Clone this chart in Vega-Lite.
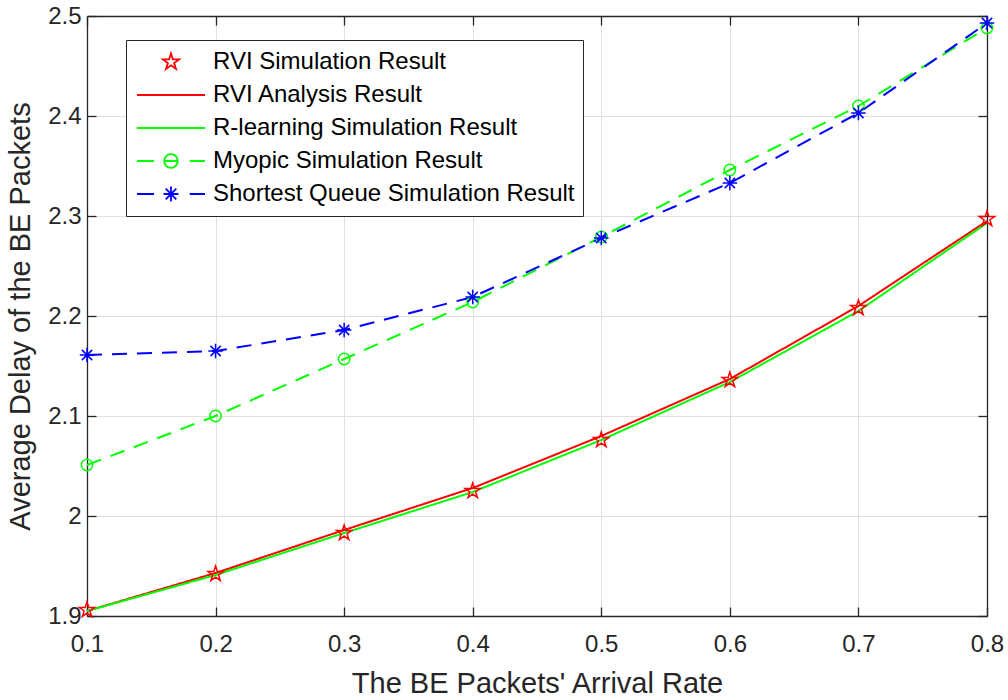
{
  "$schema": "https://vega.github.io/schema/vega-lite/v6.json",
  "width": 900,
  "height": 600,
  "autosize": "none",
  "padding": {"left": 87, "top": 16, "right": 21, "bottom": 84},
  "background": "white",
  "data": {
    "values": [
      {"x": 0.1, "series": "RVI Simulation Result", "y": 1.906},
      {"x": 0.2, "series": "RVI Simulation Result", "y": 1.942},
      {"x": 0.3, "series": "RVI Simulation Result", "y": 1.983},
      {"x": 0.4, "series": "RVI Simulation Result", "y": 2.025},
      {"x": 0.5, "series": "RVI Simulation Result", "y": 2.076},
      {"x": 0.6, "series": "RVI Simulation Result", "y": 2.136},
      {"x": 0.7, "series": "RVI Simulation Result", "y": 2.208},
      {"x": 0.8, "series": "RVI Simulation Result", "y": 2.297},
      {"x": 0.1, "series": "RVI Analysis Result", "y": 1.905},
      {"x": 0.2, "series": "RVI Analysis Result", "y": 1.943},
      {"x": 0.3, "series": "RVI Analysis Result", "y": 1.986},
      {"x": 0.4, "series": "RVI Analysis Result", "y": 2.028},
      {"x": 0.5, "series": "RVI Analysis Result", "y": 2.080},
      {"x": 0.6, "series": "RVI Analysis Result", "y": 2.137},
      {"x": 0.7, "series": "RVI Analysis Result", "y": 2.210},
      {"x": 0.8, "series": "RVI Analysis Result", "y": 2.295},
      {"x": 0.1, "series": "R-learning Simulation Result", "y": 1.905},
      {"x": 0.2, "series": "R-learning Simulation Result", "y": 1.941},
      {"x": 0.3, "series": "R-learning Simulation Result", "y": 1.983},
      {"x": 0.4, "series": "R-learning Simulation Result", "y": 2.024},
      {"x": 0.5, "series": "R-learning Simulation Result", "y": 2.076},
      {"x": 0.6, "series": "R-learning Simulation Result", "y": 2.134},
      {"x": 0.7, "series": "R-learning Simulation Result", "y": 2.205},
      {"x": 0.8, "series": "R-learning Simulation Result", "y": 2.293},
      {"x": 0.1, "series": "Myopic Simulation Result", "y": 2.051},
      {"x": 0.2, "series": "Myopic Simulation Result", "y": 2.100},
      {"x": 0.3, "series": "Myopic Simulation Result", "y": 2.157},
      {"x": 0.4, "series": "Myopic Simulation Result", "y": 2.214},
      {"x": 0.5, "series": "Myopic Simulation Result", "y": 2.279},
      {"x": 0.6, "series": "Myopic Simulation Result", "y": 2.346},
      {"x": 0.7, "series": "Myopic Simulation Result", "y": 2.410},
      {"x": 0.8, "series": "Myopic Simulation Result", "y": 2.488},
      {"x": 0.1, "series": "Shortest Queue Simulation Result", "y": 2.161},
      {"x": 0.2, "series": "Shortest Queue Simulation Result", "y": 2.165},
      {"x": 0.3, "series": "Shortest Queue Simulation Result", "y": 2.186},
      {"x": 0.4, "series": "Shortest Queue Simulation Result", "y": 2.219},
      {"x": 0.5, "series": "Shortest Queue Simulation Result", "y": 2.278},
      {"x": 0.6, "series": "Shortest Queue Simulation Result", "y": 2.333},
      {"x": 0.7, "series": "Shortest Queue Simulation Result", "y": 2.403},
      {"x": 0.8, "series": "Shortest Queue Simulation Result", "y": 2.493}
    ]
  },
  "resolve": {"axis": {"x": "independent", "y": "independent"}},
  "layer": [
    {
      "transform": [{"filter": "datum.series != 'RVI Simulation Result'"}],
      "mark": {"type": "line", "strokeWidth": 2, "clip": false},
      "encoding": {
        "x": {
          "field": "x", "type": "quantitative",
          "scale": {"domain": [0.1, 0.8], "nice": false, "zero": false},
          "axis": {"values": [0.1, 0.2, 0.3, 0.4, 0.5, 0.6, 0.7, 0.8], "format": "~g", "title": "The BE Packets' Arrival Rate", "grid": true, "labelFlush": false, "labelPadding": 25, "titlePadding": 13}
        },
        "y": {
          "field": "y", "type": "quantitative",
          "scale": {"domain": [1.9, 2.5], "nice": false, "zero": false},
          "axis": {"values": [1.9, 2.0, 2.1, 2.2, 2.3, 2.4, 2.5], "format": "~g", "title": "Average Delay of the BE Packets", "grid": true, "labelFlush": false, "labelPadding": 15, "titlePadding": 12}
        },
        "color": {
          "field": "series", "type": "nominal",
          "scale": {
            "domain": ["RVI Analysis Result", "RVI Simulation Result", "R-learning Simulation Result", "Myopic Simulation Result", "Shortest Queue Simulation Result"],
            "range": ["#ff0000", "#ff0000", "#00ff00", "#00ff00", "#0000ff"]
          },
          "legend": null
        },
        "strokeDash": {
          "field": "series", "type": "nominal",
          "scale": {
            "domain": ["Shortest Queue Simulation Result", "Myopic Simulation Result", "R-learning Simulation Result", "RVI Analysis Result", "RVI Simulation Result"],
            "range": [[15, 10], [15, 10], [1, 0], [1, 0], [1, 0]]
          },
          "legend": null
        }
      }
    },
    {
      "transform": [{"filter": "datum.series == 'RVI Simulation Result'"}],
      "mark": {"type": "point", "shape": "M0,-1L0.225,-0.309L0.951,-0.309L0.363,0.118L0.588,0.809L0,0.382L-0.588,0.809L-0.363,0.118L-0.951,-0.309L-0.225,-0.309Z", "size": 256, "filled": false, "strokeWidth": 1.5, "opacity": 1, "clip": false},
      "encoding": {
        "x": {"field": "x", "type": "quantitative", "axis": null},
        "y": {"field": "y", "type": "quantitative", "axis": null},
        "color": {"field": "series", "type": "nominal", "legend": null}
      }
    },
    {
      "transform": [{"filter": "datum.series == 'Myopic Simulation Result'"}],
      "mark": {"type": "point", "shape": "circle", "size": 130, "filled": false, "strokeWidth": 1.5, "opacity": 1, "clip": false},
      "encoding": {
        "x": {"field": "x", "type": "quantitative", "axis": null},
        "y": {"field": "y", "type": "quantitative", "axis": null},
        "color": {"field": "series", "type": "nominal", "legend": null}
      }
    },
    {
      "transform": [{"filter": "datum.series == 'Shortest Queue Simulation Result'"}],
      "mark": {"type": "point", "shape": "M-1,0L1,0M0,-1L0,1M-0.707,-0.707L0.707,0.707M-0.707,0.707L0.707,-0.707", "size": 210, "filled": false, "strokeWidth": 1.5, "opacity": 1, "clip": false},
      "encoding": {
        "x": {"field": "x", "type": "quantitative", "axis": null},
        "y": {"field": "y", "type": "quantitative", "axis": null},
        "color": {"field": "series", "type": "nominal", "legend": null}
      }
    },
    {
      "transform": [{"filter": "datum.x < 0"}],
      "mark": {"type": "point", "filled": false, "opacity": 1, "strokeWidth": 1.8},
      "encoding": {
        "x": {"field": "x", "type": "quantitative", "axis": {"orient": "top", "labels": false, "title": null, "grid": false, "values": [0.1, 0.2, 0.3, 0.4, 0.5, 0.6, 0.7, 0.8]}},
        "y": {"field": "y", "type": "quantitative", "axis": {"orient": "right", "labels": false, "title": null, "grid": false, "values": [1.9, 2.0, 2.1, 2.2, 2.3, 2.4, 2.5]}},
        "stroke": {
          "field": "series", "type": "nominal",
          "scale": {
            "domain": ["RVI Simulation Result", "RVI Analysis Result", "R-learning Simulation Result", "Myopic Simulation Result", "Shortest Queue Simulation Result"],
            "range": ["#ff0000", "#ff0000", "#00ff00", "#00ff00", "#0000ff"]
          },
          "legend": {
            "orient": "none", "legendX": 39, "legendY": 24, "title": null,
            "symbolSize": 4624, "symbolStrokeWidth": 1.8, "symbolFillColor": "transparent", "symbolOpacity": 1, "symbolOffset": 2,
            "clipHeight": 28,
            "labelFont": "Liberation Sans", "labelFontSize": 24, "labelColor": "#000000", "labelLimit": 600, "labelOffset": 7,
            "strokeColor": "#262626", "fillColor": "white", "padding": 8, "rowPadding": 5
          }
        },
        "shape": {
          "field": "series", "type": "nominal",
          "scale": {
            "domain": ["RVI Simulation Result", "RVI Analysis Result", "R-learning Simulation Result", "Myopic Simulation Result", "Shortest Queue Simulation Result"],
            "range": [
              "M0,-0.25L0.056,-0.077L0.238,-0.077L0.091,0.03L0.147,0.202L0,0.096L-0.147,0.202L-0.091,0.03L-0.238,-0.077L-0.056,-0.077Z",
              "M-1,0L1,0",
              "M-1,0L1,0",
              "M-1,0L-0.5,0M0.55,0L1,0M-0.2,0A0.2,0.2 0 1,1 0.2,0A0.2,0.2 0 1,1 -0.2,0M-0.2,0L0.2,0",
              "M-1,0L-0.5,0M0.55,0L1,0M-0.22,0L0.22,0M0,-0.22L0,0.22M-0.156,-0.156L0.156,0.156M-0.156,0.156L0.156,-0.156"
            ]
          },
          "legend": {
            "orient": "none", "legendX": 39, "legendY": 24, "title": null,
            "symbolSize": 4624, "symbolStrokeWidth": 1.8, "symbolFillColor": "transparent", "symbolOpacity": 1, "symbolOffset": 2,
            "clipHeight": 28,
            "labelFont": "Liberation Sans", "labelFontSize": 24, "labelColor": "#000000", "labelLimit": 600, "labelOffset": 7,
            "strokeColor": "#262626", "fillColor": "white", "padding": 8, "rowPadding": 5
          }
        }
      }
    }
  ],
  "config": {
    "view": {"stroke": null},
    "axis": {
      "domainColor": "#262626", "domainWidth": 1.3,
      "tickColor": "#262626", "tickWidth": 1.3, "tickSize": -9,
      "labelColor": "#262626", "titleColor": "#262626",
      "gridColor": "#e0e0e0", "gridWidth": 1,
      "labelFont": "Liberation Sans", "titleFont": "Liberation Sans",
      "labelFontSize": 24, "titleFontSize": 29, "titleFontWeight": "normal"
    }
  }
}
